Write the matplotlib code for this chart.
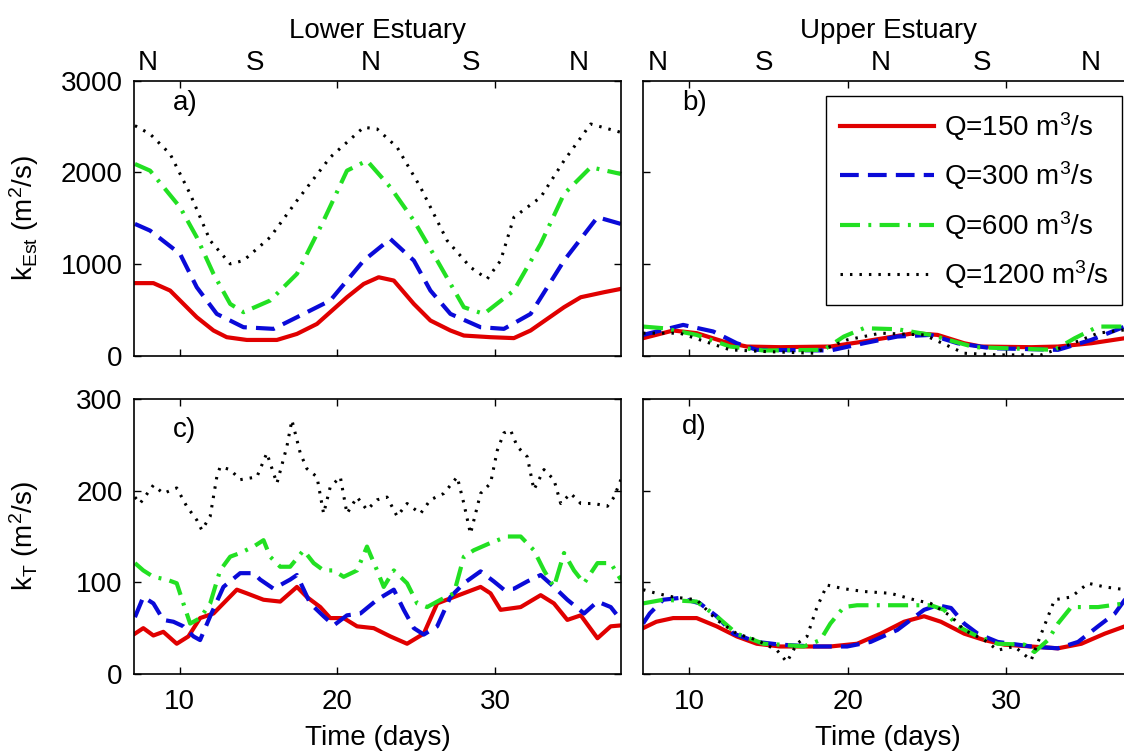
# Estuary dispersion coefficients for four river discharges
import matplotlib.pyplot as plt

plt.rcParams['font.family'] = ['Liberation Sans', 'DejaVu Sans']
plt.rcParams['mathtext.default'] = 'regular'

# discharge labels and line styles
discharges = ['Q=150 m$^3$/s', 'Q=300 m$^3$/s', 'Q=600 m$^3$/s', 'Q=1200 m$^3$/s']

# neap / spring markers above the top panels
phase_days = [8.0, 14.75, 22.1, 28.45, 35.3]
phase_labels = ['N', 'S', 'N', 'S', 'N']

# ---- panel a) lower estuary, k_Est ----
a_red_t = [7.16, 8.33, 9.39, 11.08, 12.14, 12.98, 14.25, 16.16, 17.43, 18.7, 20.6, 21.66, 22.61, 23.57,
           24.84, 25.89, 27.16, 28.01, 29.7, 31.18, 32.24, 33.3, 34.36, 35.42, 36.9, 37.96]
a_red_k = [790, 790, 709, 418, 273, 200, 170, 170, 236, 345, 636, 781, 854, 818,
           563, 382, 273, 218, 200, 190, 273, 400, 527, 636, 691, 727]
a_blue_t = [7.16, 8.12, 10.02, 11.08, 12.35, 14.04, 15.95, 17.43, 19.54, 21.66, 23.35, 24.84, 25.89,
            27.16, 29.07, 30.55, 32.24, 34.36, 36.48, 37.96]
a_blue_k = [1436, 1363, 1109, 745, 454, 309, 291, 418, 600, 1036, 1272, 1036, 709,
            454, 309, 291, 454, 1036, 1509, 1436]
a_green_t = [7.16, 8.12, 10.02, 11.08, 12.14, 13.2, 14.04, 15.73, 17.43, 19.12, 20.6, 21.87, 23.35,
             24.84, 26.32, 28.01, 29.28, 31.18, 32.88, 34.36, 36.05, 37.96]
a_green_k = [2090, 2017, 1618, 1290, 891, 563, 473, 600, 891, 1472, 2017, 2126, 1836,
             1472, 1036, 527, 454, 709, 1218, 1763, 2054, 1981]
a_black_t = [7.16, 8.12, 9.39, 10.66, 11.93, 13.2, 14.04, 15.73, 17.43, 19.54, 21.66, 22.51, 23.78,
             25.26, 26.95, 28.43, 29.49, 30.34, 31.18, 32.88, 34.36, 36.05, 37.96]
a_black_k = [2508, 2417, 2199, 1763, 1254, 1000, 1036, 1290, 1690, 2163, 2490, 2472, 2272,
             1836, 1254, 963, 836, 1036, 1508, 1727, 2126, 2526, 2435]

# ---- panel b) upper estuary, k_Est ----
b_red_t = [7.1, 9.0, 10.48, 12.16, 13.64, 15.75, 18.91, 21.02, 24.19, 25.67, 27.35, 28.41, 31.57,
           33.26, 35.37, 37.48, 38.2]
b_red_k = [189, 273, 244, 153, 98, 91, 98, 153, 244, 225, 134, 98, 91, 98, 134, 189, 200]
b_blue_t = [7.1, 9.63, 11.53, 13.01, 14.27, 18.91, 21.02, 23.13, 25.24, 26.93, 29.04, 33.26, 35.37,
            37.48, 38.2]
b_blue_k = [225, 334, 262, 134, 62, 55, 134, 207, 225, 134, 80, 62, 171, 316, 330]
b_green_t = [7.1, 8.37, 10.48, 12.59, 14.7, 18.49, 19.76, 21.02, 23.13, 25.24, 27.99, 33.05, 34.32,
             35.79, 37.48, 38.2]
b_green_k = [316, 298, 225, 98, 55, 62, 207, 298, 287, 225, 91, 62, 189, 316, 316, 316]
b_black_t = [7.1, 9.42, 12.59, 14.7, 17.86, 19.97, 22.08, 24.82, 27.35, 29.46, 32.21, 33.68, 35.79,
             37.48, 38.2]
b_black_k = [244, 244, 62, 44, 25, 171, 244, 225, 25, 7, 7, 98, 244, 280, 280]

# ---- panel c) lower estuary, k_T ----
c_red_t = [7.16, 7.69, 8.33, 8.96, 9.81, 10.55, 11.29, 12.14, 13.62, 14.25, 15.31, 16.37, 17.43, 18.06,
           18.91, 19.54, 20.39, 21.24, 22.3, 23.35, 24.41, 25.47, 26.32, 27.38, 29.07, 29.7, 30.34,
           31.61, 32.88, 33.72, 34.57, 35.42, 36.48, 37.32, 37.96]
c_red_k = [44, 50, 42, 46, 33, 41, 61, 66, 92, 88, 81, 79, 95, 84,
           73, 61, 61, 52, 50, 41, 33, 44, 77, 84, 95, 88, 70,
           73, 86, 77, 59, 64, 39, 52, 53]
c_blue_t = [7.16, 7.69, 8.33, 8.96, 9.6, 10.23, 10.87, 11.29, 11.93, 12.77, 13.83, 14.68, 15.1, 15.95,
            17.0, 17.43, 18.27, 19.12, 19.76, 20.6, 21.45, 22.51, 23.57, 24.2, 24.84, 25.47, 26.32,
            27.16, 28.01, 29.07, 29.91, 30.55, 31.18, 32.03, 32.88, 33.72, 34.57, 35.63, 36.48,
            37.32, 37.96]
c_blue_k = [62, 84, 77, 59, 57, 52, 41, 37, 63, 95, 110, 110, 103, 93,
            103, 108, 77, 63, 53, 64, 66, 81, 92, 70, 50, 43, 52,
            84, 99, 112, 101, 92, 93, 101, 108, 95, 81, 66, 79,
            73, 59]
c_green_t = [7.16, 7.69, 8.33, 9.17, 9.81, 10.23, 10.66, 11.29, 11.93, 12.56, 13.2, 13.83, 14.68, 15.31,
             15.73, 16.37, 17.0, 17.85, 18.49, 19.12, 19.76, 20.39, 21.24, 21.87, 22.51, 22.93, 23.57,
             24.41, 25.05, 25.68, 26.53, 27.38, 28.01, 28.64, 29.7, 30.76, 31.61, 32.45, 33.09, 33.72,
             34.36, 34.99, 35.63, 36.48, 37.32, 37.96]
c_green_k = [121, 113, 106, 103, 99, 77, 55, 61, 77, 113, 128, 132, 139, 146,
             128, 117, 117, 135, 121, 113, 113, 106, 113, 139, 113, 95, 113,
             99, 77, 73, 81, 88, 128, 135, 143, 150, 150, 135, 113, 95,
             132, 113, 99, 121, 121, 103]
c_black_t = [7.16, 7.48, 8.33, 8.96, 9.81, 10.44, 11.08, 11.4, 11.93, 12.35, 12.56, 13.2, 13.83, 14.89,
             15.52, 16.16, 16.79, 17.11, 17.64, 18.06, 18.7, 19.12, 19.54, 20.18, 20.6, 21.24, 21.87,
             22.51, 23.14, 23.78, 24.41, 25.26, 25.89, 26.74, 27.59, 28.01, 28.43, 29.07, 29.7, 30.13,
             30.55, 30.97, 31.4, 32.03, 32.45, 33.09, 33.72, 34.15, 34.78, 35.42, 36.26, 37.11, 37.53,
             37.96]
c_black_k = [193, 186, 206, 197, 203, 183, 168, 157, 172, 215, 226, 223, 212, 215,
             241, 208, 248, 277, 241, 224, 215, 175, 204, 215, 175, 193, 179,
             190, 193, 172, 186, 175, 190, 197, 215, 186, 153, 197, 208, 244,
             263, 266, 248, 237, 201, 223, 212, 186, 197, 186, 186, 183, 193,
             212]

# ---- panel d) upper estuary, k_T ----
d_red_t = [7.1, 7.94, 9.0, 10.48, 11.74, 13.01, 14.27, 15.75, 17.23, 18.91, 20.6, 22.08, 23.56, 24.82,
           25.88, 27.35, 28.62, 29.88, 31.57, 33.26, 34.74, 36.21, 37.48, 38.2]
d_red_k = [50, 57, 61, 61, 52, 41, 33, 30, 30, 30, 33, 44, 57, 63,
           57, 44, 37, 32, 30, 28, 33, 44, 52, 55]
d_blue_t = [7.1, 7.52, 8.37, 9.42, 10.69, 11.74, 12.8, 14.27, 15.75, 17.86, 19.97, 21.45, 23.13, 24.82,
            25.67, 26.52, 27.35, 28.2, 29.46, 31.57, 33.26, 34.53, 35.79, 36.85, 37.48, 38.2]
d_blue_k = [55, 66, 81, 83, 77, 63, 44, 35, 32, 30, 30, 35, 48, 70,
            75, 72, 55, 44, 35, 30, 28, 35, 52, 66, 81, 85]
d_green_t = [7.1, 8.37, 10.48, 11.74, 13.01, 14.7, 15.75, 17.23, 18.28, 18.91, 19.76, 20.6, 22.08, 23.56,
             25.24, 26.09, 26.93, 28.2, 29.46, 31.15, 31.78, 32.63, 33.26, 34.1, 35.79, 37.48, 38.2]
d_green_k = [77, 81, 79, 63, 44, 33, 32, 30, 37, 55, 73, 75, 75, 75,
             75, 70, 52, 41, 33, 32, 24, 37, 55, 73, 73, 77, 77]
d_black_t = [7.1, 7.94, 9.0, 10.48, 11.74, 13.01, 14.27, 15.54, 16.17, 16.8, 17.44, 18.07, 18.7, 19.76,
             21.02, 22.71, 24.19, 25.24, 26.52, 27.35, 28.62, 29.46, 30.52, 31.57, 32.21, 33.05, 34.1,
             35.16, 36.21, 37.48, 38.2]
d_black_k = [92, 88, 84, 81, 59, 44, 37, 26, 13, 33, 41, 73, 97, 93,
             90, 88, 81, 77, 63, 48, 37, 26, 30, 15, 44, 81, 84,
             99, 95, 92, 92]

# line looks (MATLAB style r-, b--, g-., k:)
colors = ['#e00000', '#0a0ad8', '#22e022', 'black']
styles = ['-', (0, (4.5, 2.2)), (0, (4.8, 2.0, 0.7, 2.0)), (0, (0.8, 2.3))]
widths = [3.0, 3.0, 3.0, 2.2]
fs = 20

fig = plt.figure(figsize=(11.24, 7.55), dpi=100)

# axes positions in figure fractions; the right column runs past the figure edge
ax_a = fig.add_axes([0.1192, 0.5291, 0.4337, 0.3642])
ax_b = fig.add_axes([0.5721, 0.5291, 0.4360, 0.3642])
ax_c = fig.add_axes([0.1192, 0.1073, 0.4337, 0.3642])
ax_d = fig.add_axes([0.5721, 0.1073, 0.4360, 0.3642])

panels = [
    (ax_a, [(a_red_t, a_red_k), (a_blue_t, a_blue_k), (a_green_t, a_green_k), (a_black_t, a_black_k)]),
    (ax_b, [(b_red_t, b_red_k), (b_blue_t, b_blue_k), (b_green_t, b_green_k), (b_black_t, b_black_k)]),
    (ax_c, [(c_red_t, c_red_k), (c_blue_t, c_blue_k), (c_green_t, c_green_k), (c_black_t, c_black_k)]),
    (ax_d, [(d_red_t, d_red_k), (d_blue_t, d_blue_k), (d_green_t, d_green_k), (d_black_t, d_black_k)]),
]

for ax, series in panels:
    for i, (t, k) in enumerate(series):
        ax.plot(t, k, color=colors[i], linestyle=styles[i], linewidth=widths[i], label=discharges[i])
    ax.set_xlim(7.1, 38)
    ax.set_xticks([10, 20, 30])
    ax.tick_params(direction='in', top=True, right=True, length=5, width=1,
                   labelsize=fs, pad=11)
    for s in ax.spines.values():
        s.set_linewidth(1.2)

# top row: k_Est
for ax in (ax_a, ax_b):
    ax.set_ylim(0, 3000)
    ax.set_yticks([0, 1000, 2000, 3000])
    ax.tick_params(labelbottom=False)
    # neap / spring labels
    for d, lab in zip(phase_days, phase_labels):
        ax.text(d, 1.065, lab, transform=ax.get_xaxis_transform(), ha='center', va='center', fontsize=fs)

# bottom row: k_T
for ax in (ax_c, ax_d):
    ax.set_ylim(0, 300)
    ax.set_yticks([0, 100, 200, 300])
    ax.set_xlabel('Time (days)', fontsize=fs)
    ax.xaxis.set_label_coords(0.5, -0.185)

for ax in (ax_b, ax_d):
    ax.tick_params(labelleft=False)

ax_a.tick_params(axis='y', pad=8)
ax_c.tick_params(axis='y', pad=8)

ax_a.set_ylabel('k$_{Est}$ (m$^2$/s)', fontsize=fs)
ax_c.set_ylabel('k$_T$ (m$^2$/s)', fontsize=fs)
ax_a.yaxis.set_label_coords(-0.19, 0.5)
ax_c.yaxis.set_label_coords(-0.19, 0.5)

# column titles
ax_a.text(0.5, 1.18, 'Lower Estuary', transform=ax_a.transAxes, ha='center', va='center', fontsize=fs)
ax_b.text(0.5, 1.18, 'Upper Estuary', transform=ax_b.transAxes, ha='center', va='center', fontsize=fs)

# panel letters
for ax, lab, y in [(ax_a, 'a)', 0.917), (ax_b, 'b)', 0.917), (ax_c, 'c)', 0.887), (ax_d, 'd)', 0.898)]:
    ax.text(0.08, y, lab, transform=ax.transAxes, ha='left', va='center', fontsize=fs)

leg = ax_b.legend(loc='upper right', bbox_to_anchor=(0.978, 0.944), borderaxespad=0,
                  fontsize=fs, handlelength=3.4, labelspacing=0.6, handletextpad=0.35,
                  fancybox=False, framealpha=1, edgecolor='black', borderpad=0.5)
leg.get_frame().set_linewidth(1.0)

fig.savefig('out.png', dpi=100)
